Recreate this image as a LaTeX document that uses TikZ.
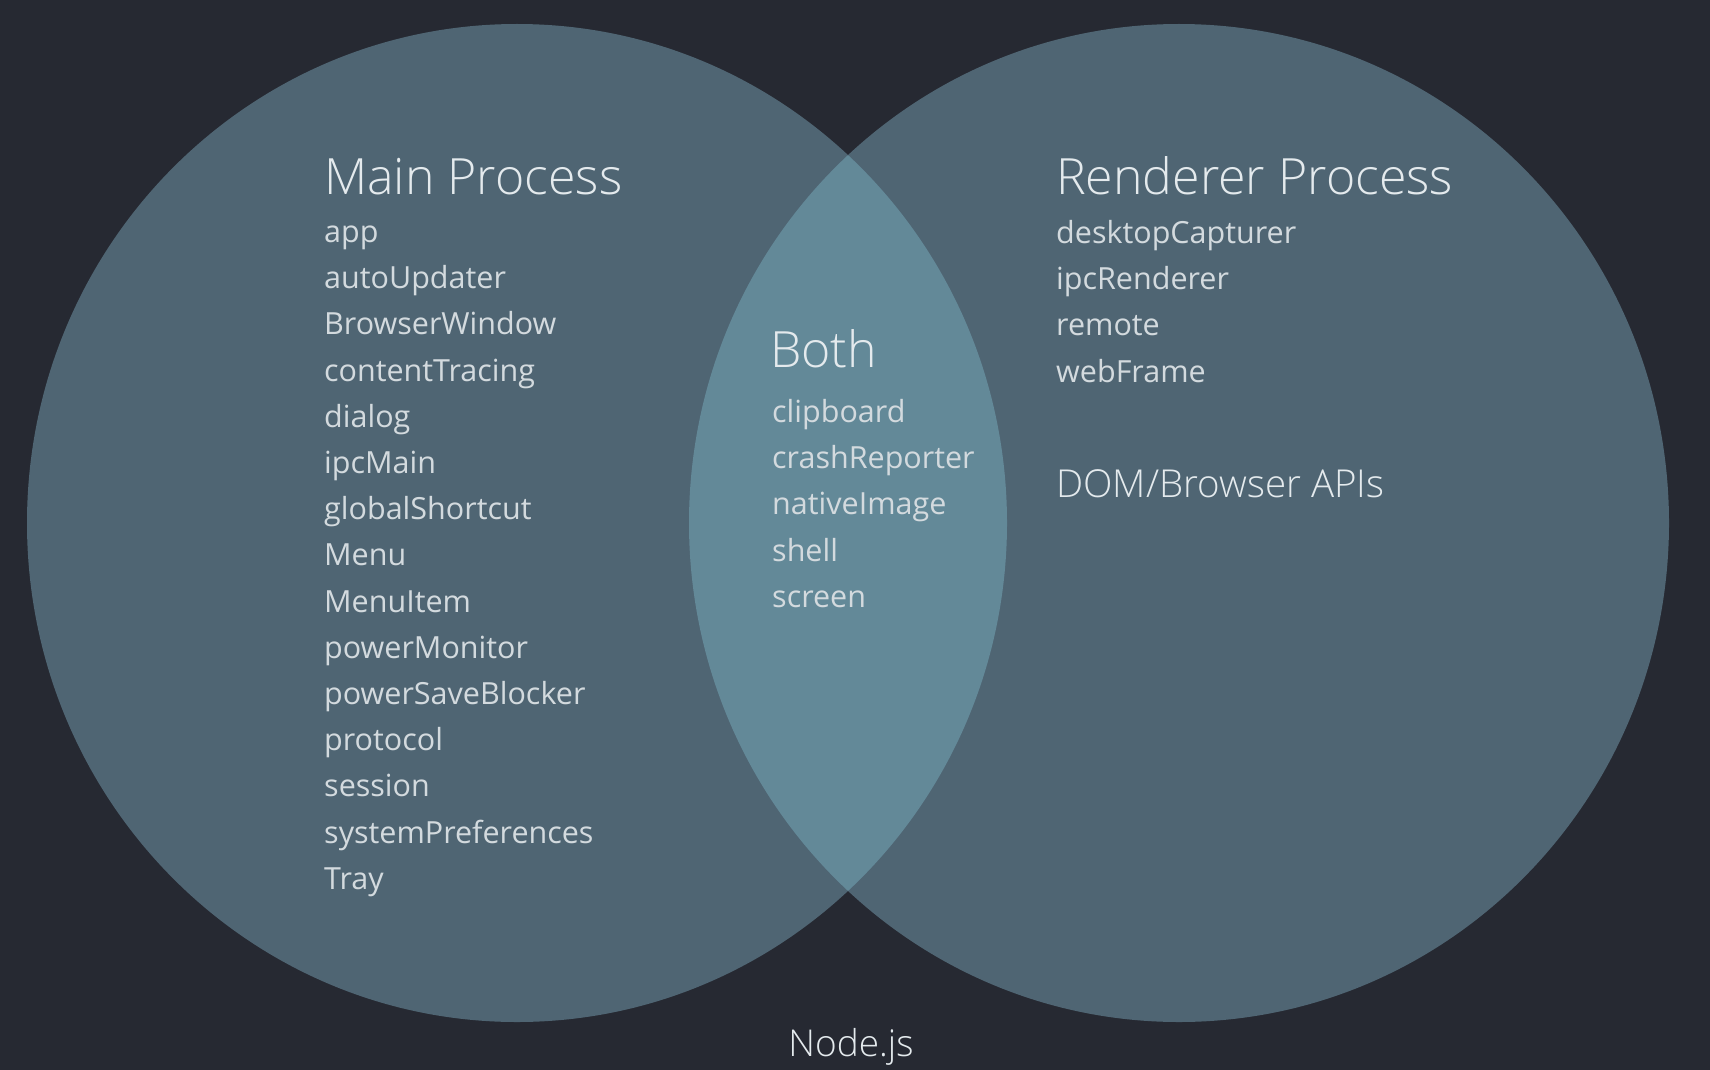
\documentclass[tikz,border=0pt]{standalone}
\usepackage{fontspec}
\setmainfont{Open Sans}
\IfFontExistsTF{Open Sans Light}
  {\newfontfamily\lightfont{Open Sans Light}}
  {\newfontfamily\lightfont{Open Sans}}
\usepackage{tikz}

\definecolor{bgcol}{HTML}{262932}
\definecolor{setcol}{HTML}{4F6573}
\definecolor{lenscol}{HTML}{638998}
\definecolor{txtcol}{HTML}{D3DADE}
\definecolor{headcol}{HTML}{E4EAED}

\tikzset{
  item/.style={anchor=base west, inner sep=0pt, text=txtcol,
    font=\fontsize{30.5}{31}\selectfont},
  head/.style={anchor=base west, inner sep=0pt, text=headcol,
    font=\lightfont\fontsize{50}{52}\selectfont}
}

\begin{document}
\begin{tikzpicture}[x=1pt,y=-1pt]
  \fill [bgcol] (0,0) rectangle (1710,1070);
  \useasboundingbox (0,0) rectangle (1710,1070);
  \coordinate (cl) at (517,523);
  \coordinate (cr) at (1179,523);
  \fill [setcol] (cl) ellipse [x radius=490, y radius=499];
  \fill [setcol] (cr) ellipse [x radius=490, y radius=499];
  \begin{scope}
    \clip (cl) ellipse [x radius=490, y radius=499];
    \fill [lenscol] (cr) ellipse [x radius=490, y radius=499];
  \end{scope}
  % main process
  \node [head] at (324,194) (mainhd) {Main Process};
  \node [item] at (324,242.5) (m1) {app};
  \node [item] at (324,288.7) (m2) {autoUpdater};
  \node [item] at (324,334.9) (m3) {BrowserWindow};
  \node [item] at (324,381.1) (m4) {contentTracing};
  \node [item] at (324,427.3) (m5) {dialog};
  \node [item] at (324,473.5) (m6) {ipcMain};
  \node [item] at (324,519.7) (m7) {globalShortcut};
  \node [item] at (324,565.9) (m8) {Menu};
  \node [item] at (324,612.1) (m9) {MenuItem};
  \node [item] at (324,658.3) (m10) {powerMonitor};
  \node [item] at (324,704.5) (m11) {powerSaveBlocker};
  \node [item] at (324,750.7) (m12) {protocol};
  \node [item] at (324,796.9) (m13) {session};
  \node [item] at (324,843.1) (m14) {systemPreferences};
  \node [item] at (324,889.3) (m15) {Tray};
  % both
  \node [head] at (770,367) (bothhd) {Both};
  \node [item] at (772,422.5) (b1) {clipboard};
  \node [item] at (772,468.7) (b2) {crashReporter};
  \node [item] at (772,514.9) (b3) {nativeImage};
  \node [item] at (772,561.1) (b4) {shell};
  \node [item] at (772,607.3) (b5) {screen};
  % renderer process
  \node [head] at (1056,194) (renderhd) {Renderer Process};
  \node [item] at (1056,243.5) (r1) {desktopCapturer};
  \node [item] at (1056,289.7) (r2) {ipcRenderer};
  \node [item] at (1056,335.9) (r3) {remote};
  \node [item] at (1056,382.1) (r4) {webFrame};
  \node [head, font=\lightfont\fontsize{38.5}{40}\selectfont] at (1056,497) (dom) {DOM/Browser APIs};
  % bottom
  \node [head, anchor=base, font=\lightfont\fontsize{37}{40}\selectfont] at (851,1056) (nodejs) {Node.js};
\end{tikzpicture}
\end{document}
